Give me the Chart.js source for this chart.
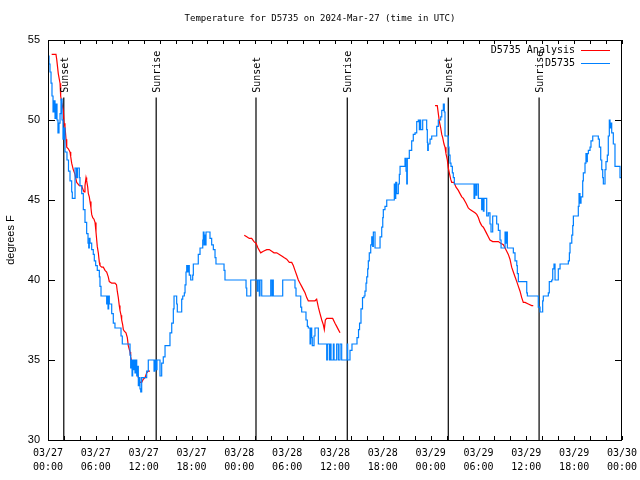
<!DOCTYPE html>
<html>
<head>
<meta charset="utf-8">
<script src="https://cdn.jsdelivr.net/npm/chart.js@4.4.1/dist/chart.umd.min.js"></script>
<style>
  body { margin: 0; background: #fff; }
  canvas { display: block; }
</style>
</head>
<body>
<canvas id="myChart" width="640" height="480"></canvas>
<script>
'use strict';

// hours since 03/27 00:00 UTC
const xTickLabels = [
  ['03/27', '00:00'], ['03/27', '06:00'], ['03/27', '12:00'], ['03/27', '18:00'],
  ['03/28', '00:00'], ['03/28', '06:00'], ['03/28', '12:00'], ['03/28', '18:00'],
  ['03/29', '00:00'], ['03/29', '06:00'], ['03/29', '12:00'], ['03/29', '18:00'],
  ['03/30', '00:00']
];

const sunHours = [1.98, 13.57, 26.09, 37.54, 50.21, 61.6];
const sunLabels = ['Sunset', 'Sunrise', 'Sunset', 'Sunrise', 'Sunset', 'Sunrise'];

// D5735 observations
const obsHours = [
  0, 0.13, 0.25, 0.38, 0.50, 0.63, 0.75, 0.88, 1.00, 1.13, 1.25, 1.38, 1.51, 1.63, 1.76, 1.88,
  2.01, 2.13, 2.38, 2.57, 2.76, 2.97, 3.05, 3.39, 3.58, 3.70, 3.93, 4.01, 4.23, 4.43, 4.64, 4.85,
  5.02, 5.11, 5.18, 5.27, 5.48, 5.68, 5.81, 5.98, 6.18, 6.44, 6.52, 6.65, 7.36, 7.44, 7.53, 7.61,
  7.69, 7.99, 8.19, 8.40, 9.16, 9.32, 10.29, 10.37, 10.45, 10.54, 10.62, 10.70, 10.79, 10.91, 11.04,
  11.13, 11.20, 11.33, 11.42, 11.54, 11.63, 11.75, 12.38, 12.58, 13.30, 13.42, 13.55, 13.67, 14.05,
  14.26, 14.46, 14.68, 15.30, 15.52, 15.72, 15.81, 16.14, 16.22, 16.77, 16.90, 17.10, 17.19, 17.31,
  17.40, 17.52, 17.65, 17.72, 17.90, 18.15, 18.23, 18.85, 19.07, 19.41, 19.48, 19.57, 19.69, 19.78,
  19.82, 20.32, 20.53, 20.74, 20.95, 21.07, 22.08, 22.20, 24.84, 24.93, 25.43, 26.25, 26.34, 26.51,
  26.59, 26.81, 27.94, 28.10, 28.19, 28.26, 29.44, 30.98, 31.11, 31.70, 31.82, 32.36, 32.53, 32.65,
  32.87, 32.95, 33.08, 33.15, 33.37, 33.49, 33.91, 34.96, 35.04, 35.29, 35.37, 35.50, 35.79, 35.88,
  36.21, 36.42, 36.63, 36.84, 37.54, 37.59, 37.88, 38.13, 38.76, 38.95, 39.08, 39.26, 39.45, 39.64,
  39.76, 39.89, 39.98, 40.10, 40.18, 40.30, 40.48, 40.61, 40.73, 40.81, 41.02, 41.65, 41.86, 41.99,
  42.06, 42.27, 42.49, 43.44, 43.53, 43.62, 43.74, 43.94, 44.07, 44.16, 44.78, 44.91, 45.00, 45.07,
  45.32, 45.62, 45.82, 46.04, 46.25, 46.45, 46.58, 46.66, 46.75, 47.00, 47.50, 47.58, 47.63, 47.70,
  47.92, 48.13, 48.76, 48.96, 49.26, 49.39, 49.59, 49.71, 49.80, 50.21, 50.30, 50.43, 50.55, 50.72,
  50.84, 50.97, 53.44, 53.53, 53.69, 53.78, 53.98, 54.40, 54.50, 54.61, 54.69, 55.03, 55.23, 55.44,
  55.57, 55.78, 56.28, 56.49, 56.70, 56.83, 57.33, 57.42, 57.54, 57.62, 58.37, 58.58, 58.80, 58.87,
  59.00, 60.05, 60.13, 61.50, 61.72, 62.05, 62.13, 62.76, 62.88, 63.18, 63.31, 63.47, 63.60, 64.01,
  64.23, 65.27, 65.40, 65.48, 65.70, 65.82, 65.90, 66.52, 66.61, 66.73, 66.86, 67.07, 67.15, 67.36,
  67.48, 67.61, 67.65, 67.78, 67.99, 68.11, 68.33, 69.03, 69.16, 69.33, 69.46, 69.58, 69.66, 69.87,
  69.99, 70.16, 70.28, 70.41, 70.50, 70.59, 70.71, 70.91, 71.12, 71.75, 71.88
];
const obsTemps = [
  54, 53.5, 53, 52.3, 51.5, 50.5, 51.2, 50.1, 51, 50, 49.2, 49.8, 50.4, 51.3, 50, 48.8,
  49.5, 48, 47.5, 46.8, 46.2, 45.5, 45.1, 47, 46.4, 47, 46.4, 45.9, 45.4, 44.4, 43.6, 42.9,
  42.3, 42, 42.6, 42.3, 41.9, 41.6, 41.2, 40.9, 40.6, 40.2, 39.6, 39, 38.5, 39, 38.2, 39,
  38.5, 37.9, 37.3, 37, 36.5, 36, 35.3, 34.5, 35, 34, 35, 34.4, 35, 34.2, 35,
  34, 34.6, 33.4, 33.9, 33.2, 33, 33.9, 34.3, 35, 34.3, 35, 34.4, 35, 34,
  34.8, 35.2, 35.9, 36.7, 37.3, 38.2, 39, 38.5, 38, 38.8, 39, 39.2, 39.7, 40.5,
  40.9, 40.5, 40.9, 40.3, 40, 40.3, 41, 41.6, 42, 42.5, 43, 42.2, 42.8, 42.2,
  43, 42.6, 42.2, 41.9, 41.4, 41, 40.6, 40, 39.5, 39, 40, 39.3, 40, 39,
  40, 39, 40, 39, 40, 39, 40, 39.5, 39, 38.3, 38, 37.5, 37.1, 37,
  36, 37, 36.4, 35.9, 36.5, 37, 36, 35, 36, 35, 36, 35, 36, 35,
  36, 35, 36, 35, 36, 35, 35.6, 36, 36.4, 36.9, 37.3, 38.2, 38.9, 39,
  39.3, 39.8, 40.2, 40.7, 41.2, 41.7, 42.2, 42.7, 42.1, 43, 42, 42.7, 43.3, 43.9,
  44.4, 44.6, 45, 46, 45.1, 46.1, 45.4, 46, 46.6, 47.1, 47.6, 46.8, 46, 47.6,
  48.1, 48.7, 49.1, 49.2, 49.9, 50, 49.4, 50, 49.4, 50, 49.4, 48.6, 48.1, 48.5,
  48.8, 49, 49.6, 50, 50.2, 50.6, 51, 50.5, 49, 48.3, 47.8, 47.3, 47.1, 46.7,
  46.4, 46, 45.1, 46, 45.3, 46, 45.1, 44.4, 45.1, 44.3, 45.1, 44, 44.2, 43.5,
  43, 44, 43.5, 43.1, 42.5, 42, 43, 42.3, 43, 42, 41.7, 41.2, 40.9, 40.4,
  39.9, 39.2, 39, 38.3, 38, 38.7, 39, 39.2, 39.9, 40, 40.7, 41, 40, 40.7,
  41, 41.2, 41.7, 42.3, 42.8, 43.4, 44, 44.6, 45.4, 44.8, 45.2, 46.2, 46.7, 47.3,
  47.9, 47.4, 47.9, 48.1, 48.3, 48.7, 49, 48.8, 48.3, 47.5, 46.9, 46.4, 46, 46.9,
  47.4, 47.8, 49, 50, 49.5, 49.8, 49.2, 48.5, 47.1, 46.4, 46.4
];

// D5735 Analysis (null = no analysis)
const anaHours = [
  0.46, 1.00, 1.09, 1.29, 1.51, 1.59, 1.72, 1.92, 2.01, 2.13, 2.26, 2.35, 2.55, 2.76, 2.85, 2.97,
  3.17, 3.39, 3.60, 3.93, 4.23, 4.35, 4.52, 4.64, 4.77, 4.85, 4.98, 5.06, 5.18, 5.27, 5.39, 5.48,
  5.61, 5.77, 5.90, 6.02, 6.11, 6.18, 6.31, 6.44, 6.52, 6.74, 6.94, 7.15, 7.36, 7.56, 7.69, 7.99,
  8.40, 8.59, 8.69, 8.82, 8.94, 9.03, 9.16, 9.24, 9.37, 9.45, 9.57, 9.78, 9.95, 10.07, 10.29, 10.37,
  10.50, 10.70, 10.91, 11.04, 11.20, 11.33, 11.54, 11.75, 11.95, 12.17, 12.38, 12.58, 12.79,
  18,
  24.62, 24.93, 25.25, 25.55, 25.84, 26.09, 26.34, 26.68, 27.01, 27.44, 27.76, 28.06, 28.35, 28.69,
  29.02, 29.32, 29.60, 29.94, 30.27, 30.57, 30.77, 30.98, 31.20, 31.40, 31.61, 31.82, 32.03, 32.24,
  32.45, 32.65, 33.08, 33.49, 33.70, 33.91, 34.12, 34.34, 34.54, 34.66, 34.79, 34.96, 35.37, 35.71,
  36.00, 36.21, 36.42, 36.63, 36.75,
  42,
  48.55, 48.83, 48.96, 49.09, 49.26, 49.39, 49.51, 49.67, 49.80, 49.92, 50.09, 50.21, 50.34, 50.51,
  50.64, 50.93, 51.18, 51.47, 51.68, 51.90, 52.10, 52.44, 52.72, 52.94, 53.27, 53.56, 53.78, 53.98,
  54.19, 54.40, 54.61, 54.82, 55.03, 55.23, 55.44, 55.78, 56.07, 56.49, 56.79, 57.12, 57.33, 57.54,
  57.74, 57.95, 58.16, 58.37, 58.58, 58.80, 59.00, 59.21, 59.42, 59.62, 59.84, 60.25, 60.67, 60.87
];
const anaTemps = [
  54.1, 54.1, 53.8, 52.9, 52.3, 51.5, 51.1, 50.6, 49.8, 49.6, 48.8, 48.3, 48.2, 48, 47.7, 47.3,
  46.9, 46.6, 46.1, 45.9, 45.9, 45.7, 45.5, 45.9, 46.4, 46.2, 45.8, 45.4, 45.2, 44.9, 44.5, 44.1,
  43.9, 43.8, 43.6, 43, 42.5, 42.1, 41.7, 41.1, 40.9, 40.8, 40.8, 40.6, 40.5, 40.2, 39.9, 39.8,
  39.8, 39.7, 39.3, 38.9, 38.4, 38.1, 37.8, 37.5, 37.2, 36.9, 36.8, 36.7, 36.4, 35.9, 35.5, 35.2,
  34.9, 34.7, 34.7, 34.6, 34.2, 33.9, 33.6, 33.6, 33.8, 33.9, 34.2, 34.3, 34.3,
  null,
  42.8, 42.7, 42.6, 42.6, 42.4, 42.3, 42, 41.7, 41.8, 41.9, 41.9, 41.8, 41.7, 41.7,
  41.6, 41.5, 41.4, 41.3, 41.1, 41.1, 40.9, 40.6, 40.3, 40, 39.8, 39.6, 39.4, 39.2,
  38.9, 38.7, 38.7, 38.7, 38.8, 38.3, 37.9, 37.5, 37.2, 36.9, 37.5, 37.6, 37.6, 37.6,
  37.3, 37.1, 36.9, 36.7, 36.7,
  null,
  50.9, 50.9, 50.4, 49.9, 49.5, 49.1, 48.9, 48.5, 48.3, 47.9, 47.5, 47, 46.7, 46.3,
  46.1, 46.1, 45.8, 45.6, 45.4, 45.2, 45.1, 44.8, 44.5, 44.4, 44.3, 44.2, 44.1, 43.9,
  43.6, 43.4, 43.3, 43.1, 42.9, 42.7, 42.5, 42.4, 42.4, 42.4, 42.3, 42.2, 42, 41.8,
  41.6, 41.3, 40.8, 40.5, 40.2, 39.9, 39.6, 39.3, 38.9, 38.6, 38.6, 38.5, 38.4, 38.4
];

const yTicks = [30, 35, 40, 45, 50, 55];

const MONO = '"DejaVu Sans Mono", monospace';
const SANS = '"Liberation Sans", Arial, sans-serif';
const OBS_COLOR = 'rgb(0, 128, 255)';
const ANA_COLOR = 'rgb(255, 0, 0)';
const SUN_TOP = 51.4; // where the sun lines start (deg F)
const SUN_LABEL = 51.7;

const obsData = obsHours.map((h, i) => ({ x: h, y: obsTemps[i] }));
const anaData = anaHours.map((h, i) => ({ x: h, y: anaTemps[i] }));

const sunDatasets = sunHours.map(h => ({
  label: 'sun',
  data: [{ x: h, y: 30 }, { x: h, y: SUN_TOP }],
  borderColor: '#000',
  borderWidth: 1.2,
  pointRadius: 0
}));

const gnuplotDecor = {
  id: 'gnuplotDecor',
  afterDraw: (chart) => {
    const { ctx, chartArea: a } = chart;
    const xs = chart.scales.x;
    const ys = chart.scales.y;
    ctx.save();

    // frame
    ctx.strokeStyle = '#000';
    ctx.lineWidth = 1;
    ctx.strokeRect(a.left + 0.5, a.top + 0.5, a.right - a.left - 1, a.bottom - a.top);

    // inward ticks
    ctx.beginPath();
    for (let h = 0; h <= 72; h += 2) {
      const px = Math.round(xs.getPixelForValue(h)) + 0.5;
      ctx.moveTo(px, a.bottom);
      ctx.lineTo(px, a.bottom - 4);
      ctx.moveTo(px, a.top);
      ctx.lineTo(px, a.top + 4);
    }
    yTicks.forEach(v => {
      const py = Math.round(ys.getPixelForValue(v)) + 0.5;
      ctx.moveTo(a.left, py);
      ctx.lineTo(a.left + 7, py);
      ctx.moveTo(a.right, py);
      ctx.lineTo(a.right - 7, py);
    });
    ctx.stroke();

    ctx.fillStyle = '#000';

    // title
    ctx.font = '9px ' + MONO;
    ctx.textAlign = 'center';
    ctx.textBaseline = 'middle';
    ctx.fillText('Temperature for D5735 on 2024-Mar-27 (time in UTC)', 320, 19);

    // y axis title
    ctx.save();
    ctx.translate(11, (a.top + a.bottom) / 2);
    ctx.rotate(-Math.PI / 2);
    ctx.font = '11px ' + SANS;
    ctx.fillText('degrees F', 0, 0);
    ctx.restore();

    // sunrise / sunset labels
    ctx.font = '10px ' + MONO;
    sunHours.forEach((h, i) => {
      ctx.save();
      ctx.translate(xs.getPixelForValue(h) + 1.5, ys.getPixelForValue(SUN_LABEL));
      ctx.rotate(-Math.PI / 2);
      ctx.textAlign = 'left';
      ctx.textBaseline = 'middle';
      ctx.fillText(sunLabels[i], 0, 0);
      ctx.restore();
    });

    // legend
    const legend = [['D5735 Analysis', ANA_COLOR, 50], ['D5735', OBS_COLOR, 63]];
    ctx.textAlign = 'right';
    legend.forEach(([text, color, y]) => {
      ctx.fillStyle = '#000';
      ctx.fillText(text, 575, y);
      ctx.strokeStyle = color;
      ctx.beginPath();
      ctx.moveTo(581, y + 0.5);
      ctx.lineTo(610, y + 0.5);
      ctx.stroke();
    });

    ctx.restore();
  }
};

const ctx = document.getElementById('myChart').getContext('2d');

const config = {
  type: 'line',
  data: {
    datasets: [
      {
        label: 'D5735',
        data: obsData,
        borderColor: OBS_COLOR,
        borderWidth: 1.2,
        pointRadius: 0,
        stepped: true
      },
      {
        label: 'D5735 Analysis',
        data: anaData,
        borderColor: ANA_COLOR,
        borderWidth: 1.2,
        pointRadius: 0,
        spanGaps: false
      },
      ...sunDatasets
    ]
  },
  options: {
    responsive: false,
    animation: false,
    devicePixelRatio: 1,
    layout: { padding: { top: 40, right: 18, left: 0, bottom: 0 } },
    plugins: {
      legend: { display: false },
      tooltip: { enabled: false },
      title: { display: false }
    },
    scales: {
      x: {
        type: 'linear',
        min: 0,
        max: 72,
        grid: { display: false, drawTicks: false },
        border: { display: false },
        afterFit: (scale) => {
          scale.height = 40;
          scale.paddingLeft = 0;
          scale.paddingRight = 0;
        },
        afterBuildTicks: (scale) => {
          scale.ticks = xTickLabels.map((_, i) => ({ value: i * 6 }));
        },
        ticks: {
          autoSkip: false,
          maxRotation: 0,
          padding: 6,
          color: '#000',
          font: { family: MONO, size: 10, lineHeight: 1.4 },
          callback: (value) => xTickLabels[Math.round(value / 6)]
        }
      },
      y: {
        min: 30,
        max: 55,
        grid: { display: false, drawTicks: false },
        border: { display: false },
        afterFit: (scale) => {
          scale.width = 48;
          scale.paddingTop = 0;
          scale.paddingBottom = 0;
        },
        ticks: {
          stepSize: 5,
          padding: 8,
          color: '#000',
          font: { family: SANS, size: 11 }
        }
      }
    }
  },
  plugins: [gnuplotDecor]
};

const myChart = new Chart(ctx, config);
</script>
</body>
</html>
